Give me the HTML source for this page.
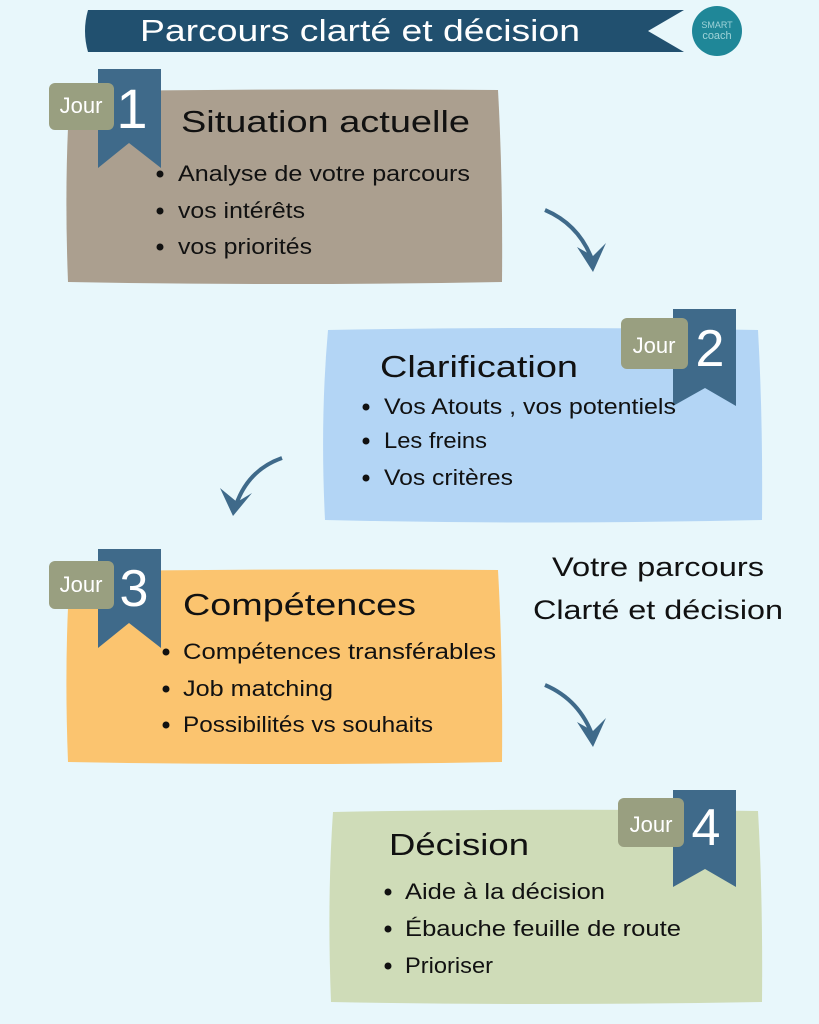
<!DOCTYPE html>
<html><head><meta charset="utf-8"><style>
html,body{margin:0;padding:0;background:#e8f7fb;}
svg{display:block;}
text{font-family:"Liberation Sans",sans-serif;}
</style></head><body>
<svg width="819" height="1024" viewBox="0 0 819 1024" xmlns="http://www.w3.org/2000/svg">
<rect width="819" height="1024" fill="#e8f7fb"/>
<path d="M88 10 L684 10 L648 31 L684 52 L88 52 Q82 31 88 10Z" fill="#21506f"/>
<text x="140" y="41" font-size="31" fill="#fff" textLength="440" lengthAdjust="spacingAndGlyphs">Parcours clarté et décision</text>
<circle cx="717" cy="31" r="25" fill="#1f8798"/>
<text x="717" y="28" font-size="9" fill="#9fd3d8" text-anchor="middle">SMART</text>
<text x="717" y="39" font-size="11" fill="#9fd3d8" text-anchor="middle">coach</text>

<path d="M70 92 Q280 88 498 90 Q503 180 502 282 Q280 286 68 282 Q64 180 70 92Z" fill="#ab9f8f"/>
<path d="M98 69 L161 69 L161 168 L129 143 L98 168Z" fill="#3f6a8a"/>
<rect x="49" y="83" width="65" height="47" rx="6" fill="#999f80"/>
<text x="81" y="113" font-size="22" fill="#fff" text-anchor="middle">Jour</text>
<text x="132" y="128" font-size="56" fill="#fff" text-anchor="middle">1</text>
<text x="181" y="132" font-size="31" fill="#111" textLength="289" lengthAdjust="spacingAndGlyphs">Situation actuelle</text>
<g font-size="22" fill="#111">
<circle cx="160" cy="174" r="3.5"/><text x="178" y="181" textLength="292" lengthAdjust="spacingAndGlyphs">Analyse de votre parcours</text>
<circle cx="160" cy="211" r="3.5"/><text x="178" y="218" textLength="127" lengthAdjust="spacingAndGlyphs">vos intérêts</text>
<circle cx="160" cy="247" r="3.5"/><text x="178" y="254" textLength="134" lengthAdjust="spacingAndGlyphs">vos priorités</text>
</g>

<path d="M545 210 Q580 225 593 262" stroke="#3f6a8a" stroke-width="4" fill="none"/>
<path d="M577 247 L593 272 L606 243 L593 256Z" fill="#3f6a8a"/>

<path d="M328 330 Q540 326 758 330 Q763 420 762 520 Q540 525 325 520 Q320 420 328 330Z" fill="#b3d5f5"/>
<path d="M673 309 L736 309 L736 406 L705 388 L673 406Z" fill="#3f6a8a"/>
<rect x="621" y="318" width="67" height="51" rx="6" fill="#999f80"/>
<text x="654" y="353" font-size="22" fill="#fff" text-anchor="middle">Jour</text>
<text x="710" y="366" font-size="52" fill="#fff" text-anchor="middle">2</text>
<text x="380" y="377" font-size="31" fill="#111" textLength="198" lengthAdjust="spacingAndGlyphs">Clarification</text>
<g font-size="22" fill="#111">
<circle cx="366" cy="407" r="3.5"/><text x="384" y="414" textLength="292" lengthAdjust="spacingAndGlyphs">Vos Atouts , vos potentiels</text>
<circle cx="366" cy="441" r="3.5"/><text x="384" y="448" textLength="103" lengthAdjust="spacingAndGlyphs">Les freins</text>
<circle cx="366" cy="478" r="3.5"/><text x="384" y="485" textLength="129" lengthAdjust="spacingAndGlyphs">Vos critères</text>
</g>

<path d="M282 458 Q248 470 236 505" stroke="#3f6a8a" stroke-width="4" fill="none"/>
<path d="M220 488 L233 516 L252 493 L237 502Z" fill="#3f6a8a"/>

<path d="M70 572 Q280 568 498 570 Q503 660 502 762 Q280 766 68 762 Q64 660 70 572Z" fill="#fbc46f"/>
<path d="M98 549 L161 549 L161 648 L129 623 L98 648Z" fill="#3f6a8a"/>
<rect x="49" y="561" width="65" height="48" rx="6" fill="#999f80"/>
<text x="81" y="592" font-size="22" fill="#fff" text-anchor="middle">Jour</text>
<text x="134" y="606" font-size="52" fill="#fff" text-anchor="middle">3</text>
<text x="183" y="615" font-size="31" fill="#111" textLength="233" lengthAdjust="spacingAndGlyphs">Compétences</text>
<g font-size="22" fill="#111">
<circle cx="166" cy="652" r="3.5"/><text x="183" y="659" textLength="313" lengthAdjust="spacingAndGlyphs">Compétences transférables</text>
<circle cx="166" cy="689" r="3.5"/><text x="183" y="696" textLength="150" lengthAdjust="spacingAndGlyphs">Job matching</text>
<circle cx="166" cy="725" r="3.5"/><text x="183" y="732" textLength="250" lengthAdjust="spacingAndGlyphs">Possibilités vs souhaits</text>
</g>

<text x="552" y="576" font-size="27" fill="#111" textLength="212" lengthAdjust="spacingAndGlyphs">Votre parcours</text>
<text x="533" y="619" font-size="27" fill="#111" textLength="250" lengthAdjust="spacingAndGlyphs">Clarté et décision</text>

<path d="M545 685 Q580 700 593 737" stroke="#3f6a8a" stroke-width="4" fill="none"/>
<path d="M577 722 L593 747 L606 718 L593 731Z" fill="#3f6a8a"/>

<path d="M333 812 Q540 808 758 811 Q763 900 762 1002 Q540 1006 331 1002 Q327 900 333 812Z" fill="#cfdcb8"/>
<path d="M673 790 L736 790 L736 887 L705 869 L673 887Z" fill="#3f6a8a"/>
<rect x="618" y="798" width="66" height="49" rx="6" fill="#999f80"/>
<text x="651" y="832" font-size="22" fill="#fff" text-anchor="middle">Jour</text>
<text x="706" y="845" font-size="52" fill="#fff" text-anchor="middle">4</text>
<text x="389" y="855" font-size="31" fill="#111" textLength="140" lengthAdjust="spacingAndGlyphs">Décision</text>
<g font-size="22" fill="#111">
<circle cx="388" cy="892" r="3.5"/><text x="405" y="899" textLength="200" lengthAdjust="spacingAndGlyphs">Aide à la décision</text>
<circle cx="388" cy="929" r="3.5"/><text x="405" y="936" textLength="276" lengthAdjust="spacingAndGlyphs">Ébauche feuille de route</text>
<circle cx="388" cy="966" r="3.5"/><text x="405" y="973" textLength="88" lengthAdjust="spacingAndGlyphs">Prioriser</text>
</g>
</svg>
</body></html>
